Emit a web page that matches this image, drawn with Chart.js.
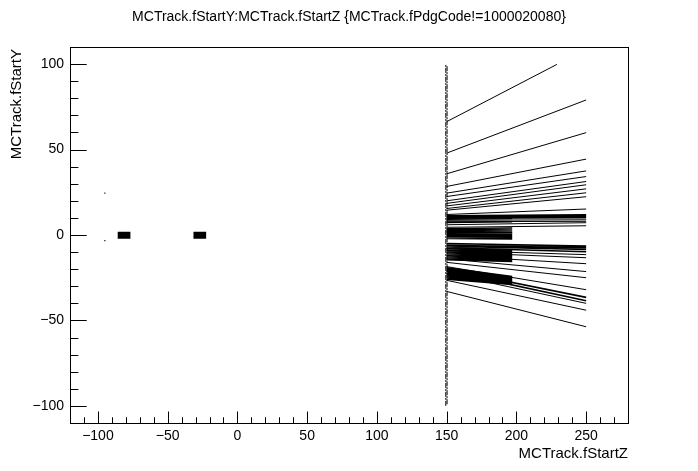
<!DOCTYPE html>
<html>
<head>
<meta charset="utf-8">
<script src="https://cdn.jsdelivr.net/npm/chart.js@4.4.1/dist/chart.umd.min.js"></script>
<style>
  html, body { margin: 0; padding: 0; background: #fff; }
  canvas { display: block; }
</style>
</head>
<body>
<canvas id="zyChart" width="698" height="471"></canvas>
<script>
// 軸と目盛り
const xRange = [-120, 280];
const yRange = [-110, 110];
const xLabelValues = [-100, -50, 0, 50, 100, 150, 200, 250];
const yLabelValues = [-100, -50, 0, 50, 100];

// トラック: [zStart, yStart, zEnd, yEnd]
const longTracks = [
  [150, 66.3, 229, 99.8],
  [150, 47.9, 250, 79],
  [150, 35.8, 250, 59.9],
  [150, 28.4, 250, 44.4],
  [150, 24.5, 250, 37.5],
  [150, 22.5, 250, 34.2],
  [150, 20, 250, 31.3],
  [150, 18.5, 250, 29.4],
  [150, 17, 250, 27],
  [150, 15.5, 250, 24.7],
  [150, 14.5, 250, 22.4],
  [150, 12, 250, 15.2],
  [150, 8.6, 250, 8.9],
  [150, 7.8, 250, 8.0],
  [150, 6, 250, 7.2],
  [150, 4.5, 250, 5.4],
  [150, -9, 250, -11.5],
  [150, -10, 250, -13.3],
  [150, -12, 250, -16.8],
  [150, -14, 250, -21.4],
  [150, -16, 250, -25],
  [150, -18.5, 250, -32],
  [150, -22.5, 250, -40],
  [150, -26.5, 250, -44],
  [150, -33, 250, -53.7]
];

// 太く見えるトラック
const thickTracks = [
  [150, -5, 250, -6.5],
  [150, -6, 250, -7.5],
  [150, -6.5, 250, -8.5],
  [150, -7.5, 250, -9.8],
  [150, -20, 250, -36.5],
  [150, -21, 250, -38.5],
  [150, 11.2, 250, 11.8],
  [150, 10.4, 250, 10.9],
  [150, 9.8, 250, 10.1]
];

// z=150〜197 の密集トラック
const denseTracks = [
  [150, 3.8, 197, 4.2], [150, 3.2, 197, 3.5], [150, 2.6, 197, 2.9],
  [150, 2.0, 197, 2.2], [150, 1.4, 197, 1.5], [150, 0.8, 197, 0.9],
  [150, 0.2, 197, 0.2], [150, -0.4, 197, -0.4], [150, -1.0, 197, -1.1],
  [150, -1.6, 197, -1.8], [150, -2.2, 197, -2.4],
  [150, -8.0, 197, -8.6], [150, -8.6, 197, -9.2], [150, -9.2, 197, -9.8],
  [150, -9.8, 197, -10.4], [150, -10.4, 197, -11.0], [150, -11.0, 197, -11.7],
  [150, -11.6, 197, -12.3], [150, -12.2, 197, -12.9], [150, -12.8, 197, -13.5],
  [150, -13.4, 197, -14.1], [150, -14.0, 197, -14.8], [150, -14.6, 197, -15.6],
  [150, -19.0, 197, -24.2], [150, -19.7, 197, -24.8], [150, -20.4, 197, -25.3],
  [150, -21.1, 197, -25.8], [150, -21.8, 197, -26.3], [150, -22.5, 197, -26.8],
  [150, -23.2, 197, -27.3], [150, -23.9, 197, -27.8], [150, -24.6, 197, -28.2],
  [150, -25.3, 197, -28.6], [150, -26.0, 197, -29.0],
  [150, 9.2, 197, 9.6], [150, 7.2, 197, 7.6]
];

// z=150 の縦の点列
const sourceLines = [
  [149.4, -100, 149.4, 100],
  [150.3, -99, 150.3, 99]
];

// 左側のブロック（z範囲, y）
const targetBlocks = [
  [-85.8, -0.2, -76.7, -0.2],
  [-31.5, -0.2, -22.4, -0.2]
];

const strayPoints = [[-95, 24.5], [-95, -3.3]];

const titleText = "MCTrack.fStartY:MCTrack.fStartZ {MCTrack.fPdgCode!=1000020080}";
const xTitle = "MCTrack.fStartZ";
const yTitle = "MCTrack.fStartY";

function segmentPoints(list) {
  const pts = [];
  list.forEach(([z0, y0, z1, y1]) => {
    pts.push({ x: z0, y: y0 }, { x: z1, y: y1 }, { x: z1, y: null });
  });
  return pts;
}

function lineSet(list, width, extra) {
  return Object.assign({
    data: segmentPoints(list),
    showLine: true,
    borderColor: "#000",
    borderWidth: width,
    borderCapStyle: "butt",
    pointRadius: 0,
    spanGaps: false
  }, extra || {});
}

const FONT = "'Liberation Sans', Arial, sans-serif";

// ROOT風の枠・内向き目盛り・タイトル
const rootFrame = {
  id: "rootFrame",
  afterDraw(chart) {
    const { ctx, chartArea: a, scales } = chart;
    ctx.save();
    ctx.strokeStyle = "#000";
    ctx.lineWidth = 1;
    ctx.strokeRect(a.left + 0.5, a.top + 0.5, a.right - a.left, a.bottom - a.top);

    ctx.beginPath();
    scales.x.ticks.forEach(t => {
      const px = Math.round(scales.x.getPixelForValue(t.value)) + 0.5;
      const len = t.value % 50 === 0 ? 11.5 : 5.7;
      ctx.moveTo(px, a.bottom);
      ctx.lineTo(px, a.bottom - len);
    });
    scales.y.ticks.forEach(t => {
      const py = Math.round(scales.y.getPixelForValue(t.value)) + 0.5;
      const len = t.value % 50 === 0 ? 16.7 : 8.4;
      ctx.moveTo(a.left, py);
      ctx.lineTo(a.left + len, py);
    });
    ctx.stroke();

    ctx.fillStyle = "#000";
    ctx.font = "14px " + FONT;
    ctx.textAlign = "center";
    ctx.textBaseline = "alphabetic";
    ctx.fillText(titleText, 349, 21);

    ctx.font = "15px " + FONT;
    ctx.textAlign = "right";
    ctx.fillText(xTitle, a.right, 458);

    ctx.translate(21, a.top + 2);
    ctx.rotate(-Math.PI / 2);
    ctx.textAlign = "right";
    ctx.fillText(yTitle, 0, 0);
    ctx.restore();
  }
};

Chart.defaults.font.family = FONT;
Chart.defaults.font.size = 14;
Chart.defaults.color = "#000";

new Chart(document.getElementById("zyChart"), {
  type: "scatter",
  data: {
    datasets: [
      lineSet(longTracks, 1),
      lineSet(thickTracks, 1.6),
      lineSet(denseTracks, 1.2),
      lineSet(sourceLines, 1, { borderDash: [5, 1, 2, 1] }),
      lineSet(targetBlocks, 7),
      {
        data: strayPoints.map(([x, y]) => ({ x, y })),
        pointStyle: "rect",
        pointRadius: 0.8,
        backgroundColor: "#000",
        borderWidth: 0
      }
    ]
  },
  options: {
    responsive: false,
    animation: false,
    layout: { padding: { top: 47, right: 70, left: 0, bottom: 0 } },
    plugins: { legend: { display: false }, tooltip: { enabled: false }, title: { display: false } },
    scales: {
      x: {
        type: "linear",
        min: xRange[0],
        max: xRange[1],
        grid: { display: false, drawTicks: false },
        border: { display: false },
        afterFit(scale) { scale.height = 48; },
        ticks: {
          stepSize: 10,
          autoSkip: false,
          maxRotation: 0,
          padding: 5,
          callback: v => xLabelValues.includes(v) ? String(v).replace("-", "\u2212") : ""
        }
      },
      y: {
        type: "linear",
        min: yRange[0],
        max: yRange[1],
        grid: { display: false, drawTicks: false },
        border: { display: false },
        afterFit(scale) { scale.width = 70; },
        ticks: {
          stepSize: 10,
          autoSkip: false,
          padding: 6,
          callback: v => yLabelValues.includes(v) ? String(v).replace("-", "\u2212") : ""
        }
      }
    }
  },
  plugins: [rootFrame]
});
</script>
</body>
</html>
